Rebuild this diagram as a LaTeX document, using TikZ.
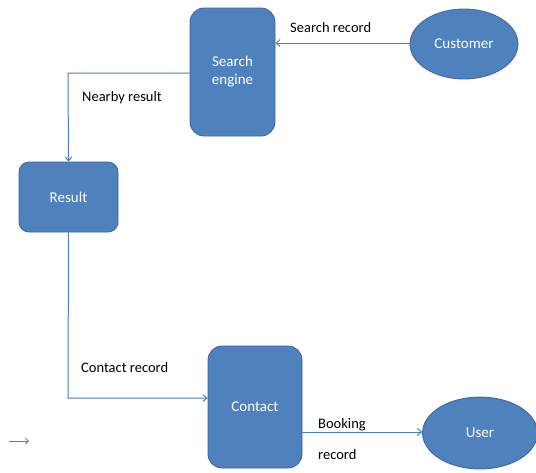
\documentclass[tikz,border=0pt]{standalone}
\usepackage{fontspec}
\setmainfont{Carlito}
\usetikzlibrary{shapes.geometric,arrows.meta}
\definecolor{boxfill}{HTML}{4F81BD}
\definecolor{boxedge}{HTML}{3A65A0}
\definecolor{linecol}{HTML}{4A7EBB}
\tikzset{
  proc/.style={draw=boxedge, line width=0.8pt, fill=boxfill, rounded corners=14pt, text=white, font=\fontsize{15}{18}\selectfont, align=center, inner sep=0pt},
  ent/.style={ellipse, draw=boxedge, line width=0.8pt, fill=boxfill, text=white, font=\fontsize{15}{18}\selectfont, inner sep=0pt},
  flow/.style={draw=linecol, line width=1pt, -{Straight Barb[length=4pt,width=7pt]}},
  lbl/.style={font=\fontsize{14.5}{17}\selectfont, text=black, inner sep=0pt}
}
\begin{document}
\begin{tikzpicture}[x=1pt,y=-1pt]
\useasboundingbox (0,0) rectangle (536,472);
\node[proc, minimum width=85pt, minimum height=128pt] (se) at (232.5,72) {Search\\engine};
\node[ent, minimum width=108pt, minimum height=70pt] (cust) at (464,44) {Customer};
\node[proc, rounded corners=10pt, minimum width=99pt, minimum height=70pt] (res) at (68.5,197) {Result};
\node[proc, minimum width=94pt, minimum height=122pt] (con) at (255,407) {Contact};
\node[ent, minimum width=115pt, minimum height=72pt] (user) at (480,433) {User};
\coordinate (c1) at (68,73);
\coordinate (c2) at (68,398);
\draw[flow] (cust.west |- 0,43) -- (se.east |- 0,43);
\draw[flow] (se.west |- 0,73) -- (c1) -- (res.north);
\draw[flow] (res.south) -- (c2) -- (con.west |- c2);
\draw[flow] (con.east |- 0,432) -- (user.west |- 0,432);
\node[lbl, anchor=west] (l1) at (290,28) {Search record};
\node[lbl, anchor=west] (l2) at (82,98) {Nearby result};
\node[lbl, anchor=west] (l3) at (81,368) {Contact record};
\node[lbl, anchor=west] (l4) at (318,425) {Booking};
\node[lbl, anchor=west] (l5) at (318,455) {record};
\coordinate (a1) at (9,441);
\coordinate (a2) at (29,441);
\draw[draw=linecol, line width=0.8pt, -{Straight Barb[length=3pt,width=6pt]}] (a1) -- (a2);
\end{tikzpicture}
\end{document}
